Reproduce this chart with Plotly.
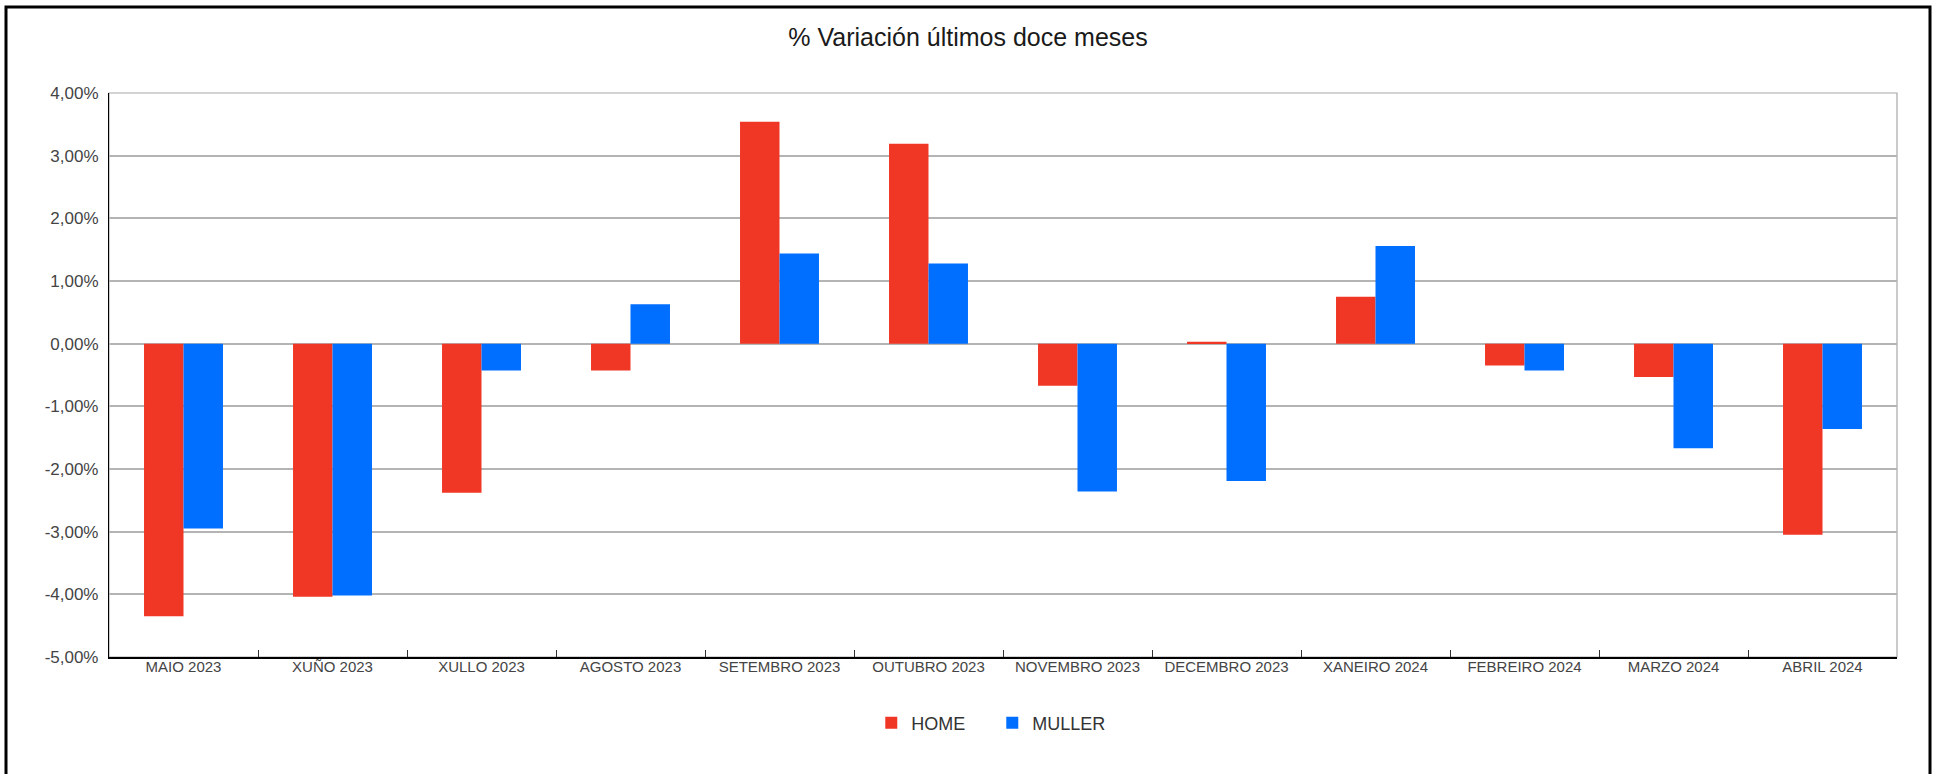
import plotly.graph_objects as go

months = ["MAIO 2023", "XUÑO 2023", "XULLO 2023", "AGOSTO 2023", "SETEMBRO 2023",
          "OUTUBRO 2023", "NOVEMBRO 2023", "DECEMBRO 2023", "XANEIRO 2024",
          "FEBREIRO 2024", "MARZO 2024", "ABRIL 2024"]
home = [-4.35, -4.04, -2.38, -0.43, 3.54, 3.19, -0.67, 0.03, 0.75, -0.35, -0.53, -3.05]
muller = [-2.95, -4.02, -0.43, 0.63, 1.44, 1.28, -2.36, -2.19, 1.56, -0.43, -1.67, -1.36]
y_ticks = [-5, -4, -3, -2, -1, 0, 1, 2, 3, 4]
y_tick_labels = ["-5,00%", "-4,00%", "-3,00%", "-2,00%", "-1,00%", "0,00%",
                 "1,00%", "2,00%", "3,00%", "4,00%"]

RED = "#F03726"
BLUE = "#006FFF"
FONT = "Liberation Sans, Arial, sans-serif"

fig = go.Figure()
fig.add_trace(go.Bar(name="HOME", x=months, y=home, marker_color=RED, marker_line_width=0))
fig.add_trace(go.Bar(name="MULLER", x=months, y=muller, marker_color=BLUE, marker_line_width=0))

W, H = 1936, 774
ml, mr, mt, mb = 109, 39, 93, 117
pw, ph = W - ml - mr, H - mt - mb

def px2x(px):
    return (px - ml) / pw

def py2y(py):
    return (H - mb - py) / ph

fig.update_layout(
    width=W, height=H,
    margin=dict(l=ml, r=mr, t=mt, b=mb),
    paper_bgcolor="white", plot_bgcolor="white",
    font=dict(family=FONT, color="#444444"),
    barmode="group", bargap=0.47, bargroupgap=0,
    title=dict(text="% Variación últimos doce meses", x=0.5, xref="container",
               xanchor="center", y=1 - 37 / H, yanchor="middle",
               font=dict(family=FONT, size=25, color="#1a1a1a")),
    legend=dict(orientation="h", x=0.494, xanchor="center", y=py2y(723), yanchor="middle",
                font=dict(family=FONT, size=18, color="#333333"),
                itemwidth=30, entrywidth=76, traceorder="normal"),
    showlegend=True,
)

fig.update_xaxes(
    type="category", showgrid=False, showline=True, linecolor="black", linewidth=1.5,
    ticks="inside", tickson="boundaries", ticklen=7, tickcolor="#333333", tickwidth=1.2,
    tickfont=dict(family=FONT, size=15, color="#444444"), zeroline=False,
    ticklabelstandoff=-5,
)
fig.update_yaxes(
    range=[-5, 4], tickvals=y_ticks, ticktext=y_tick_labels,
    showgrid=True, gridcolor="#B4B4B4", gridwidth=1.5,
    zeroline=True, zerolinecolor="#B4B4B4", zerolinewidth=1.5,
    showline=True, linecolor="black", linewidth=1.2,
    ticks="", ticklabelstandoff=6,
    tickfont=dict(family=FONT, size=17, color="#444444"),
)

# gray frame of plot area (top/right)
fig.add_shape(type="rect", xref="paper", yref="paper", x0=0, x1=1, y0=0, y1=1,
              line=dict(color="#A8A8A8", width=1.2), layer="below")
# outer black border
fig.add_shape(type="rect", xref="paper", yref="paper",
              x0=px2x(6), x1=px2x(1930), y0=py2y(780), y1=py2y(7),
              line=dict(color="black", width=3), layer="above")

fig.write_html("out.html", config={"displayModeBar": False},
               post_script="document.body.style.margin='0';document.body.style.overflow='hidden';")
